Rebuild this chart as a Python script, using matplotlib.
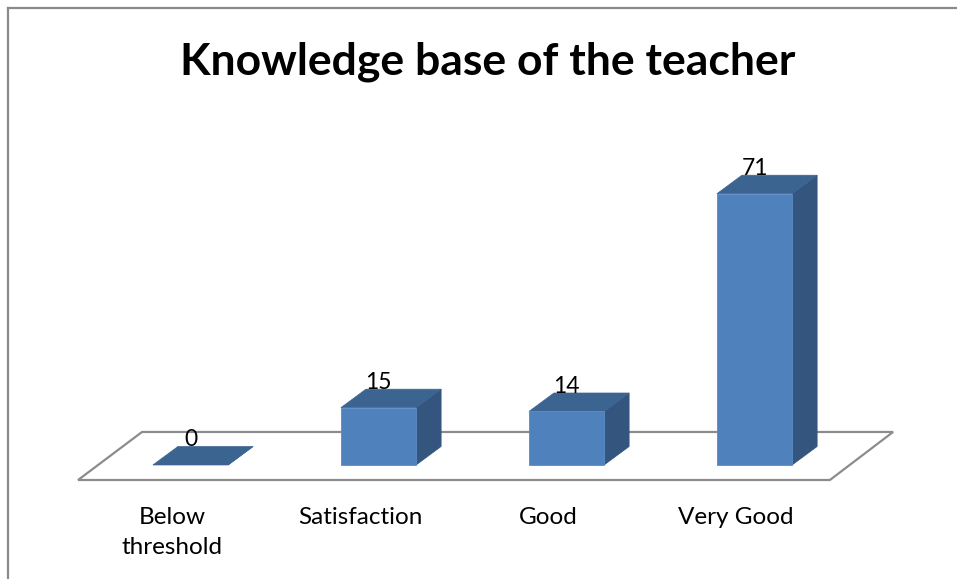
import matplotlib
matplotlib.use("Agg")
import matplotlib.pyplot as plt
from matplotlib.patches import Polygon
from matplotlib.lines import Line2D

# ---- data ----
categories = ["Below\nthreshold", "Satisfaction", "Good", "Very Good"]
values = [0, 15, 14, 71]
title = "Knowledge base of the teacher"

# ---- style ----
FRONT = "#4F81BD"
TOP = "#3C6491"
SIDE = "#33557E"
FLOOR = "#8C8C8C"
FONT = "Lato"

fig = plt.figure(figsize=(9.57, 5.79), dpi=100)
ax = fig.add_axes([0, 0, 1, 1])
ax.set_xlim(-1.0133, 4.077)
ax.set_ylim(-29.84, 121.7)
ax.axis("off")

bw = 0.40      # bar width (category units)
ddx = 0.133    # depth offset x
ddy = 4.84     # depth offset y (value units)

# floor
fl_front_y, fl_back_y = -3.93, 8.64
floor = Polygon([(-0.598, fl_front_y), (3.401, fl_front_y),
                 (3.737, fl_back_y), (-0.258, fl_back_y)],
                closed=True, facecolor="white", edgecolor=FLOOR, lw=1.6, zorder=1)
ax.add_patch(floor)

for i, (cat, v) in enumerate(zip(categories, values)):
    x0, x1 = i - bw / 2, i + bw / 2
    # side face
    ax.add_patch(Polygon([(x1, 0), (x1 + ddx, ddy), (x1 + ddx, v + ddy), (x1, v)],
                         closed=True, facecolor=SIDE, edgecolor=SIDE, lw=0.5, zorder=2))
    # top face
    ax.add_patch(Polygon([(x0, v), (x1, v), (x1 + ddx, v + ddy), (x0 + ddx, v + ddy)],
                         closed=True, facecolor=TOP, edgecolor=TOP, lw=0.5, zorder=3))
    # front face
    if v > 0:
        ax.bar(i, v, width=bw, bottom=0, color=FRONT, edgecolor="#5B8BC6",
               linewidth=0.6, zorder=4)
    # value label
    ax.text(i, v + ddy, str(v), ha="center", va="baseline",
            fontsize=16.5, family=FONT, color="black", zorder=5)
    # category label
    ax.text(i - 0.098, -10.95, cat, ha="center", va="top", fontsize=17.5,
            family=FONT, color="black", linespacing=1.56, zorder=5)

fig.text(0.51, 0.893, title, ha="center", va="center", fontsize=32,
         fontweight="bold", family=FONT, color="black")

# chart-area border (top and left)
fig.add_artist(Line2D([8 / 957, 1], [1 - 8 / 579, 1 - 8 / 579],
                      transform=fig.transFigure, color="#8A8A8A", lw=1.6))
fig.add_artist(Line2D([8 / 957, 8 / 957], [0, 1 - 8 / 579],
                      transform=fig.transFigure, color="#8A8A8A", lw=1.6))

fig.savefig("out.png", dpi=100)
